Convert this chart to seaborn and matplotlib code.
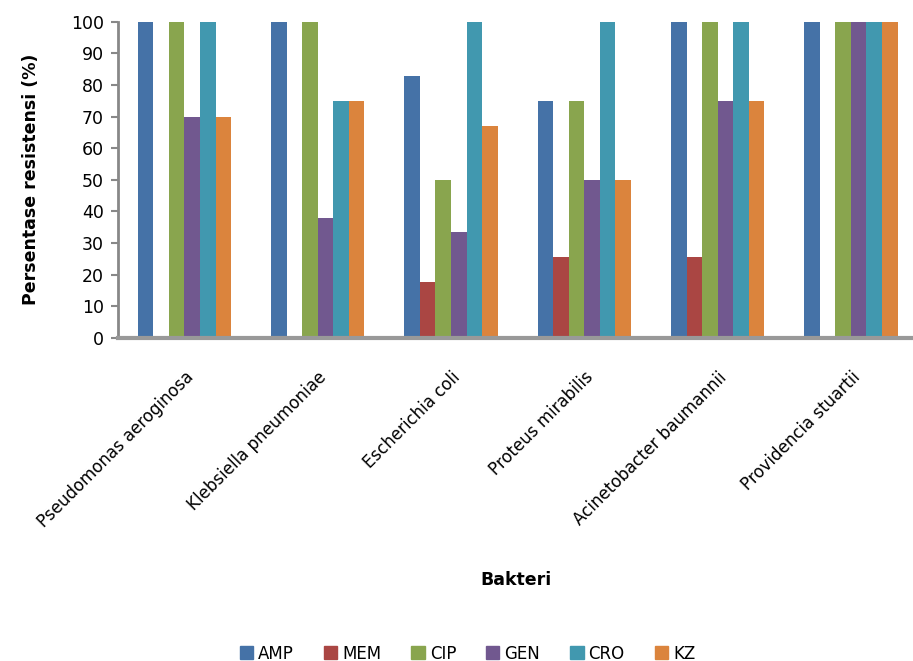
import matplotlib
matplotlib.use("Agg")
import matplotlib.pyplot as plt
import seaborn as sns
import pandas as pd

bakteri = ["Pseudomonas aeroginosa", "Klebsiella pneumoniae", "Escherichia coli",
           "Proteus mirabilis", "Acinetobacter baumannii", "Providencia stuartii"]
antibiotik = ["AMP", "MEM", "CIP", "GEN", "CRO", "KZ"]
amp = [100, 100, 83, 75, 100, 100]
mem = [0, 0, 17.5, 25.5, 25.5, 0]
cip = [100, 100, 50, 75, 100, 100]
gen = [70, 38, 33.5, 50, 75, 100]
cro = [100, 75, 100, 100, 100, 100]
kz = [70, 75, 67, 50, 75, 100]
warna = ["#4572A7", "#AA4643", "#89A54E", "#71588F", "#4198AF", "#DB843D"]

nilai = dict(zip(antibiotik, [amp, mem, cip, gen, cro, kz]))
rows = []
for ab in antibiotik:
    for b, v in zip(bakteri, nilai[ab]):
        rows.append({"Bakteri": b, "Antibiotik": ab, "Persen": v})
df = pd.DataFrame(rows)

sns.set_theme(style="white")
plt.rcParams["font.family"] = ["DejaVu Sans"]
plt.rcParams["text.color"] = "black"
plt.rcParams["axes.labelcolor"] = "black"
plt.rcParams["xtick.color"] = "black"
plt.rcParams["ytick.color"] = "black"

fig = plt.figure(figsize=(9.13, 6.61), dpi=100)
ax = fig.add_axes([0.129, 0.489, 0.876, 0.478])

sns.barplot(data=df, x="Bakteri", y="Persen", hue="Antibiotik",
            order=bakteri, hue_order=antibiotik, palette=warna,
            width=0.7, saturation=1, linewidth=0, ax=ax, legend=False)

ax.set_ylim(0, 100)
ax.set_xlim(-0.5, 5.5)
ax.set_yticks(range(0, 101, 10))
ax.tick_params(axis="y", labelsize=12.5, length=5, width=1.5, color="#888888",
               labelcolor="black", direction="out", left=True, pad=5)
ax.tick_params(axis="x", labelsize=12, length=0, pad=22, labelcolor="black")
plt.setp(ax.get_xticklabels(), rotation=45, ha="right", rotation_mode="anchor")

for s in ["top", "right"]:
    ax.spines[s].set_visible(False)
ax.spines["left"].set_color("#888888")
ax.spines["left"].set_linewidth(2)
ax.spines["bottom"].set_color("#999999")
ax.spines["bottom"].set_linewidth(3)

ax.set_ylabel("Persentase resistensi (%)", fontsize=12.5, fontweight="bold", labelpad=22)
ax.set_xlabel("")
fig.text(0.565, 0.123, "Bakteri", fontsize=12.5, fontweight="bold", ha="center", va="center")

handles = [plt.Rectangle((0, 0), 1, 1, color=c) for c in warna]
fig.legend(handles, antibiotik, loc="lower center", bbox_to_anchor=(0.512, -0.025),
           ncol=6, frameon=False, fontsize=12, handlelength=0.8, handleheight=0.8,
           handletextpad=0.3, columnspacing=1.8)

fig.savefig("out.png", dpi=100)
